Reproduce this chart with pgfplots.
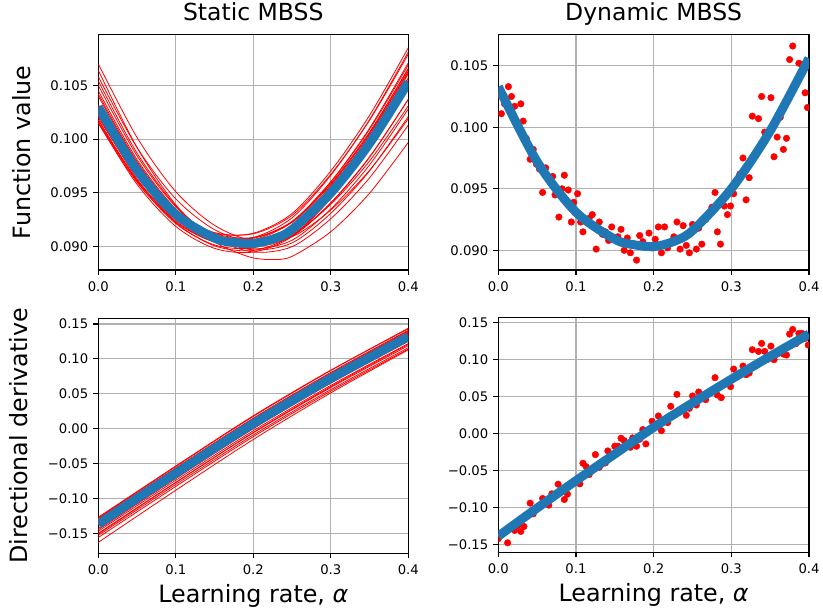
\documentclass[border=0pt]{standalone}
\usepackage{fontspec}
\setmainfont{DejaVu Sans}
\usepackage{pgfplots}
\pgfplotsset{compat=1.18}
\definecolor{mplblue}{HTML}{1F77B4}
\definecolor{gridgray}{HTML}{B0B0B0}

\pgfplotsset{
  panel/.style={
    scale only axis, width=310bp,
    xmin=0, xmax=0.4,
    xtick={0,0.1,0.2,0.3,0.4},
    xticklabels={0.0,0.1,0.2,0.3,0.4},
    grid=major,
    major grid style={gridgray, line width=1.1bp},
    axis line style={line width=1.1bp},
    tick style={black, line width=1.1bp},
    tick align=outside, major tick length=5bp,
    tick pos=left,
    tick label style={font=\fontsize{13.2bp}{15bp}\selectfont},
    xticklabel style={yshift=-3bp},
    yticklabel style={xshift=-1.5bp},
    title style={font=\fontsize{23.5bp}{26bp}\selectfont, at={(0.5,1)}, anchor=base, yshift=8.3bp},
    label style={font=\fontsize{23.8bp}{26bp}\selectfont},
    xlabel style={at={(axis description cs:0.5,0)}, anchor=base, yshift=-49.4bp},
    clip marker paths=true,
  },
  fticks/.style={ytick={0.090,0.095,0.100,0.105},
    yticklabels={0.090,0.095,0.100,0.105}},
  dticks/.style={ytick={-0.15,-0.10,-0.05,0,0.05,0.10,0.15},
    yticklabels={−0.15,−0.10,−0.05,0.00,0.05,0.10,0.15}},
  redline/.style={red, line width=0.8bp, smooth, no markers},
  bluecurve/.style={mplblue, line width=9bp, smooth, no markers},
  reddots/.style={only marks, mark=*, mark size=3.3bp, red},
}

\begin{document}
\begin{tikzpicture}
\useasboundingbox (0bp,0bp) rectangle (823bp,608bp);

% ---------- static, function value ----------
\begin{axis}[panel, fticks, at={(98.3bp,338bp)}, anchor=south west, height=235.3bp,
  ymin=0.08783, ymax=0.10971, title={Static MBSS}, ylabel={Function value},
  ylabel style={at={(axis description cs:-0.2187,0.5)}, anchor=base}]
\addplot[redline] coordinates {(0,0.10640)(0.05,0.09922)(0.1,0.09389)(0.15,0.09050)(0.175,0.08957)(0.2,0.08895)(0.225,0.08880)(0.25,0.08910)(0.3,0.09139)(0.35,0.09497)(0.4,0.09970)};
\addplot[redline] coordinates {(0,0.10700)(0.05,0.10015)(0.1,0.09511)(0.15,0.09198)(0.2,0.09055)(0.25,0.09093)(0.3,0.09341)(0.35,0.09710)(0.4,0.10190)};
\addplot[redline] coordinates {(0,0.10540)(0.05,0.09870)(0.1,0.09380)(0.15,0.09080)(0.2,0.08950)(0.25,0.09000)(0.3,0.09260)(0.35,0.09640)(0.4,0.10130)};
\addplot[redline] coordinates {(0,0.10500)(0.05,0.09845)(0.1,0.09370)(0.15,0.09085)(0.2,0.08970)(0.25,0.09035)(0.3,0.09310)(0.35,0.09705)(0.4,0.10210)};
\addplot[redline] coordinates {(0,0.10450)(0.05,0.09810)(0.1,0.09350)(0.15,0.09080)(0.2,0.08980)(0.25,0.09060)(0.3,0.09350)(0.35,0.09760)(0.4,0.10280)};
\addplot[redline] coordinates {(0,0.10400)(0.05,0.09780)(0.1,0.09339)(0.15,0.09087)(0.2,0.09005)(0.25,0.09102)(0.3,0.09409)(0.35,0.09835)(0.4,0.10370)};
\addplot[redline] coordinates {(0,0.10200)(0.05,0.09656)(0.1,0.09294)(0.15,0.09123)(0.2,0.09125)(0.25,0.09308)(0.3,0.09704)(0.35,0.10221)(0.4,0.10850)};
\addplot[redline] coordinates {(0,0.10240)(0.05,0.09686)(0.1,0.09313)(0.15,0.09131)(0.2,0.09120)(0.25,0.09291)(0.3,0.09673)(0.35,0.10176)(0.4,0.10790)};
\addplot[redline] coordinates {(0,0.10220)(0.05,0.09656)(0.1,0.09274)(0.15,0.09083)(0.2,0.09065)(0.25,0.09228)(0.3,0.09604)(0.35,0.10101)(0.4,0.10710)};
\addplot[redline] coordinates {(0,0.10260)(0.05,0.09691)(0.1,0.09303)(0.15,0.09106)(0.2,0.09080)(0.25,0.09236)(0.3,0.09603)(0.35,0.10091)(0.4,0.10690)};
\addplot[redline] coordinates {(0,0.10180)(0.05,0.09606)(0.1,0.09215)(0.15,0.09016)(0.2,0.08990)(0.25,0.09146)(0.3,0.09515)(0.35,0.10006)(0.4,0.10610)};
\addplot[redline] coordinates {(0,0.10260)(0.05,0.09681)(0.1,0.09284)(0.15,0.09078)(0.2,0.09045)(0.25,0.09193)(0.3,0.09554)(0.35,0.10036)(0.4,0.10630)};
\addplot[redline] coordinates {(0,0.10240)(0.05,0.09656)(0.1,0.09254)(0.15,0.09043)(0.2,0.09005)(0.25,0.09148)(0.3,0.09504)(0.35,0.09981)(0.4,0.10570)};
\addplot[redline] coordinates {(0,0.10220)(0.05,0.09631)(0.1,0.09224)(0.15,0.09008)(0.2,0.08965)(0.25,0.09103)(0.3,0.09454)(0.35,0.09926)(0.4,0.10510)};
\addplot[redline] coordinates {(0,0.10180)(0.05,0.09619)(0.1,0.09238)(0.15,0.09044)(0.2,0.09020)(0.25,0.09174)(0.3,0.09538)(0.35,0.10019)(0.4,0.10610)};
\addplot[redline] coordinates {(0,0.10150)(0.05,0.09599)(0.1,0.09228)(0.15,0.09044)(0.2,0.09030)(0.25,0.09194)(0.3,0.09568)(0.35,0.10059)(0.4,0.10660)};
\addplot[redline] coordinates {(0,0.10150)(0.05,0.09579)(0.1,0.09188)(0.15,0.08984)(0.2,0.08950)(0.25,0.09094)(0.3,0.09448)(0.35,0.09919)(0.4,0.10500)};
\addplot[redline] coordinates {(0,0.10320)(0.05,0.09726)(0.1,0.09313)(0.15,0.09091)(0.2,0.09040)(0.25,0.09171)(0.3,0.09513)(0.35,0.09976)(0.4,0.10550)};
\addplot[redline] coordinates {(0,0.10270)(0.05,0.09689)(0.1,0.09288)(0.15,0.09074)(0.2,0.09030)(0.25,0.09164)(0.3,0.09508)(0.35,0.09969)(0.4,0.10540)};
\addplot[redline] coordinates {(0,0.10300)(0.05,0.09725)(0.1,0.09329)(0.15,0.09122)(0.2,0.09085)(0.25,0.09227)(0.3,0.09579)(0.35,0.10050)(0.4,0.10630)};
\addplot[redline] coordinates {(0,0.10160)(0.05,0.09616)(0.1,0.09254)(0.15,0.09083)(0.2,0.09085)(0.25,0.09268)(0.3,0.09664)(0.35,0.10181)(0.4,0.10810)};
\addplot[redline] coordinates {(0,0.10260)(0.05,0.09694)(0.1,0.09308)(0.15,0.09109)(0.2,0.09080)(0.25,0.09229)(0.3,0.09588)(0.35,0.10064)(0.4,0.10650)};
\addplot[redline] coordinates {(0,0.10420)(0.05,0.09791)(0.1,0.09343)(0.15,0.09086)(0.2,0.09000)(0.25,0.09096)(0.3,0.09403)(0.35,0.09831)(0.4,0.10370)};
\addplot[redline] coordinates {(0,0.10580)(0.05,0.09921)(0.1,0.09444)(0.15,0.09158)(0.2,0.09045)(0.25,0.09113)(0.3,0.09394)(0.35,0.09796)(0.4,0.10310)};
\addplot[bluecurve] coordinates {(0,0.1030)(0.05,0.0971)(0.1,0.0930)(0.15,0.0908)(0.175,0.09040)(0.2,0.0903)(0.225,0.0907)(0.25,0.0916)(0.3,0.0950)(0.35,0.0996)(0.4,0.1053)};
\end{axis}

% ---------- dynamic, function value ----------
\begin{axis}[panel, fticks, at={(498.3bp,338bp)}, anchor=south west, width=310.7bp, height=235.3bp,
  ymin=0.0884, ymax=0.10752, title={Dynamic MBSS}]
\addplot[reddots] coordinates {
(0.000,0.1026)(0.004,0.1011)(0.008,0.1019)(0.013,0.1033)(0.017,0.1025)(0.021,0.1017)
(0.025,0.1000)(0.029,0.1019)(0.032,0.1005)(0.036,0.0991)(0.041,0.0974)(0.045,0.0982)
(0.049,0.0970)(0.053,0.0966)(0.057,0.0947)(0.061,0.0967)(0.065,0.0958)(0.070,0.0960)
(0.073,0.0945)(0.078,0.0927)(0.082,0.0950)(0.085,0.0961)(0.090,0.0949)(0.094,0.0923)
(0.097,0.0939)(0.102,0.0946)(0.106,0.0923)(0.109,0.0915)(0.113,0.0924)(0.117,0.0926)
(0.121,0.0929)(0.126,0.0901)(0.130,0.0923)(0.134,0.0913)(0.138,0.0915)(0.142,0.0908)
(0.146,0.0919)(0.150,0.0910)(0.154,0.0911)(0.158,0.0917)(0.162,0.0900)(0.166,0.0910)
(0.170,0.0898)(0.174,0.0904)(0.178,0.0892)(0.182,0.0912)(0.186,0.0907)(0.190,0.0903)
(0.194,0.0914)(0.198,0.0902)(0.202,0.0909)(0.206,0.0919)(0.210,0.0898)(0.214,0.0919)
(0.218,0.0902)(0.222,0.0906)(0.226,0.0911)(0.230,0.0923)(0.234,0.0901)(0.238,0.0920)
(0.242,0.0904)(0.246,0.0898)(0.250,0.0921)(0.255,0.0901)(0.258,0.0918)(0.262,0.0905)
(0.267,0.0925)(0.271,0.0930)(0.275,0.0935)(0.279,0.0947)(0.282,0.0915)(0.286,0.0905)
(0.291,0.0936)(0.295,0.0929)(0.299,0.0936)(0.303,0.0946)(0.307,0.0956)(0.311,0.0962)
(0.315,0.0975)(0.319,0.0941)(0.323,0.0959)(0.327,0.1009)(0.331,0.0979)(0.335,0.1007)
(0.339,0.1025)(0.343,0.0996)(0.347,0.0995)(0.351,0.1024)(0.355,0.0976)(0.359,0.0992)
(0.363,0.1008)(0.367,0.0982)(0.371,0.0991)(0.375,0.1055)(0.379,0.1066)(0.383,0.1035)
(0.387,0.1052)(0.391,0.1051)(0.395,0.1028)(0.398,0.1016)};
\addplot[bluecurve] coordinates {(0,0.1033)(0.05,0.0972)(0.1,0.0931)(0.15,0.0909)(0.175,0.09045)(0.2,0.0903)(0.225,0.0907)(0.25,0.0916)(0.3,0.0950)(0.35,0.0997)(0.4,0.1056)};
\end{axis}

% ---------- static, derivative ----------
\begin{axis}[panel, dticks, at={(98.3bp,54.7bp)}, anchor=south west, height=235bp,
  ymin=-0.1787, ymax=0.1582, xlabel={Learning rate, \textit{α}}, ylabel={Directional derivative},
  ylabel style={at={(axis description cs:-0.23,0.5)}, anchor=base}]
\addplot[redline] coordinates {(0,-0.163)(0.1,-0.0883)(0.2,-0.0155)(0.3,0.0513)(0.4,0.113)};
\addplot[redline] coordinates {(0,-0.156)(0.1,-0.0828)(0.2,-0.0115)(0.3,0.0538)(0.4,0.114)};
\addplot[redline] coordinates {(0,-0.153)(0.1,-0.080)(0.2,-0.009)(0.3,0.056)(0.4,0.116)};
\addplot[redline] coordinates {(0,-0.150)(0.1,-0.077)(0.2,-0.006)(0.3,0.059)(0.4,0.119)};
\addplot[redline] coordinates {(0,-0.147)(0.1,-0.074)(0.2,-0.003)(0.3,0.062)(0.4,0.122)};
\addplot[redline] coordinates {(0,-0.143)(0.1,-0.0703)(0.2,0.0005)(0.3,0.0653)(0.4,0.125)};
\addplot[redline] coordinates {(0,-0.128)(0.1,-0.0543)(0.2,0.0175)(0.3,0.0833)(0.4,0.144)};
\addplot[redline] coordinates {(0,-0.130)(0.1,-0.0565)(0.2,0.015)(0.3,0.0805)(0.4,0.141)};
\addplot[redline] coordinates {(0,-0.132)(0.1,-0.0583)(0.2,0.0135)(0.3,0.0793)(0.4,0.140)};
\addplot[redline] coordinates {(0,-0.133)(0.1,-0.0595)(0.2,0.012)(0.3,0.0775)(0.4,0.138)};
\addplot[redline] coordinates {(0,-0.134)(0.1,-0.060)(0.2,0.012)(0.3,0.078)(0.4,0.139)};
\addplot[redline] coordinates {(0,-0.135)(0.1,-0.0613)(0.2,0.0105)(0.3,0.0763)(0.4,0.137)};
\addplot[redline] coordinates {(0,-0.136)(0.1,-0.0623)(0.2,0.0095)(0.3,0.0753)(0.4,0.136)};
\addplot[redline] coordinates {(0,-0.137)(0.1,-0.0633)(0.2,0.0085)(0.3,0.0743)(0.4,0.135)};
\addplot[redline] coordinates {(0,-0.131)(0.1,-0.0585)(0.2,0.012)(0.3,0.0765)(0.4,0.136)};
\addplot[redline] coordinates {(0,-0.129)(0.1,-0.0565)(0.2,0.014)(0.3,0.0785)(0.4,0.138)};
\addplot[redline] coordinates {(0,-0.133)(0.1,-0.0605)(0.2,0.010)(0.3,0.0745)(0.4,0.134)};
\addplot[redline] coordinates {(0,-0.138)(0.1,-0.0645)(0.2,0.007)(0.3,0.0725)(0.4,0.133)};
\addplot[redline] coordinates {(0,-0.135)(0.1,-0.0625)(0.2,0.008)(0.3,0.0725)(0.4,0.132)};
\addplot[redline] coordinates {(0,-0.134)(0.1,-0.0613)(0.2,0.0095)(0.3,0.0743)(0.4,0.134)};
\addplot[redline] coordinates {(0,-0.127)(0.1,-0.0535)(0.2,0.0185)(0.3,0.0838)(0.4,0.143)};
\addplot[redline] coordinates {(0,-0.132)(0.1,-0.0595)(0.2,0.011)(0.3,0.0755)(0.4,0.135)};
\addplot[redline] coordinates {(0,-0.145)(0.1,-0.0715)(0.2,0.000)(0.3,0.0655)(0.4,0.126)};
\addplot[redline] coordinates {(0,-0.151)(0.1,-0.0773)(0.2,-0.0055)(0.3,0.0603)(0.4,0.121)};
\addplot[bluecurve] coordinates {(0,-0.137)(0.05,-0.100)(0.1,-0.064)(0.15,-0.028)(0.2,0.007)(0.25,0.040)(0.3,0.072)(0.35,0.102)(0.4,0.132)};
\end{axis}

% ---------- dynamic, derivative ----------
\begin{axis}[panel, dticks, at={(498.3bp,55.7bp)}, anchor=south west, width=310.7bp, height=234.5bp,
  ymin=-0.1608, ymax=0.156, xlabel={Learning rate, \textit{α}}]
\addplot[reddots] coordinates {
(0.000,-0.1425)(0.004,-0.1370)(0.009,-0.1320)(0.012,-0.1480)(0.016,-0.1290)(0.021,-0.1313)
(0.025,-0.1250)(0.029,-0.1326)(0.033,-0.1259)(0.036,-0.1120)(0.041,-0.0944)(0.045,-0.1088)
(0.049,-0.1020)(0.053,-0.0990)(0.057,-0.0881)(0.061,-0.0920)(0.065,-0.0971)(0.069,-0.0818)
(0.073,-0.0840)(0.077,-0.0688)(0.081,-0.0760)(0.085,-0.0895)(0.089,-0.0823)(0.094,-0.0680)
(0.097,-0.0660)(0.101,-0.0630)(0.105,-0.0683)(0.109,-0.0405)(0.113,-0.0450)(0.117,-0.0558)
(0.121,-0.0490)(0.125,-0.0288)(0.130,-0.0459)(0.134,-0.0390)(0.138,-0.0400)(0.141,-0.0238)
(0.146,-0.0310)(0.150,-0.0175)(0.154,-0.0175)(0.158,-0.0067)(0.162,-0.0099)(0.166,-0.0160)
(0.170,-0.0189)(0.173,-0.0063)(0.178,-0.0175)(0.182,-0.0081)(0.186,0.0049)(0.190,-0.0144)
(0.194,0.0030)(0.198,0.0162)(0.202,0.0090)(0.206,0.0234)(0.210,0.0036)(0.214,0.0170)
(0.218,0.0144)(0.222,0.0364)(0.226,0.0250)(0.230,0.0526)(0.234,0.0315)(0.238,0.0330)
(0.242,0.0243)(0.246,0.0337)(0.250,0.0504)(0.255,0.0382)(0.258,0.0558)(0.263,0.0486)
(0.267,0.0454)(0.271,0.0540)(0.275,0.0570)(0.279,0.0751)(0.282,0.0517)(0.287,0.0481)
(0.291,0.0675)(0.295,0.0697)(0.299,0.0630)(0.303,0.0868)(0.307,0.0770)(0.311,0.0790)
(0.315,0.0908)(0.319,0.0791)(0.323,0.0814)(0.327,0.1129)(0.331,0.0935)(0.335,0.1106)
(0.339,0.1214)(0.343,0.1106)(0.347,0.1000)(0.351,0.1178)(0.355,0.0994)(0.359,0.1070)
(0.363,0.1090)(0.367,0.1070)(0.371,0.1057)(0.375,0.1340)(0.379,0.1403)(0.383,0.1210)
(0.387,0.1349)(0.391,0.1349)(0.395,0.1281)(0.399,0.1192)};
\addplot[bluecurve] coordinates {(0,-0.139)(0.05,-0.101)(0.1,-0.064)(0.15,-0.028)(0.2,0.008)(0.25,0.041)(0.3,0.073)(0.35,0.104)(0.4,0.134)};
\end{axis}
\end{tikzpicture}
\end{document}
